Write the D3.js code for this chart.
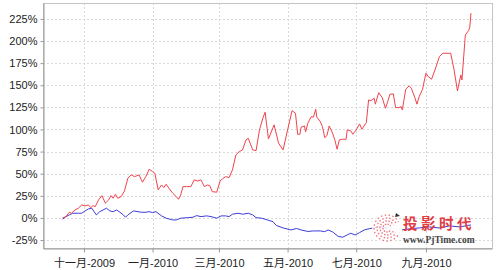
<!DOCTYPE html>
<html>
<head>
<meta charset="utf-8">
<script src="https://cdn.jsdelivr.net/npm/d3@7"></script>
<style>
  html, body { margin: 0; padding: 0; background: #fff; }
  svg { display: block; }
  .axis text { font-family: "Liberation Sans", Arial, "Noto Sans CJK SC", sans-serif; font-size: 11px; fill: #222; }
  .axis path, .axis line { stroke: #999; }
</style>
</head>
<body>
<svg id="chart" width="500" height="270"></svg>
<script>
// month names used on the time axis
const monthNames = ["一月", "二月", "三月", "四月", "五月", "六月", "七月", "八月", "九月", "十月", "十一月", "十二月"];
const yTicks = [-25, 0, 25, 50, 75, 100, 125, 150, 175, 200, 225];

// fund return (red), %
const redDates = [
  "2009-10-13", "2009-10-16", "2009-10-19", "2009-10-21", "2009-10-24", "2009-10-27", "2009-10-30",
  "2009-11-02", "2009-11-05", "2009-11-07", "2009-11-09", "2009-11-11", "2009-11-14", "2009-11-17",
  "2009-11-20", "2009-11-23", "2009-11-25", "2009-11-27", "2009-11-29", "2009-12-01", "2009-12-04",
  "2009-12-07", "2009-12-10", "2009-12-13", "2009-12-16", "2009-12-20", "2009-12-23", "2009-12-26",
  "2009-12-29", "2010-01-01", "2010-01-03", "2010-01-06", "2010-01-09", "2010-01-11", "2010-01-13",
  "2010-01-16", "2010-01-19", "2010-01-22", "2010-01-24", "2010-01-26", "2010-01-28", "2010-01-31",
  "2010-02-04", "2010-02-07", "2010-02-10", "2010-02-13", "2010-02-16", "2010-02-19", "2010-02-21",
  "2010-02-23", "2010-02-27", "2010-03-02", "2010-03-04", "2010-03-07", "2010-03-10", "2010-03-13",
  "2010-03-16", "2010-03-19", "2010-03-22", "2010-03-25", "2010-03-27", "2010-03-31", "2010-04-03",
  "2010-04-06", "2010-04-09", "2010-04-11", "2010-04-14", "2010-04-19", "2010-04-23", "2010-04-27",
  "2010-05-01", "2010-05-05", "2010-05-08", "2010-05-10", "2010-05-12", "2010-05-13", "2010-05-16",
  "2010-05-17", "2010-05-19", "2010-05-22", "2010-05-24", "2010-05-26", "2010-05-27", "2010-05-30",
  "2010-06-01", "2010-06-03", "2010-06-05", "2010-06-07", "2010-06-10", "2010-06-12", "2010-06-14",
  "2010-06-16", "2010-06-19", "2010-06-22", "2010-06-23", "2010-06-26", "2010-06-28", "2010-07-01",
  "2010-07-04", "2010-07-06", "2010-07-10", "2010-07-12", "2010-07-14", "2010-07-17", "2010-07-18",
  "2010-07-21", "2010-07-23", "2010-07-24", "2010-07-27", "2010-07-29", "2010-07-31", "2010-08-03",
  "2010-08-05", "2010-08-08", "2010-08-10", "2010-08-11", "2010-08-14", "2010-08-17", "2010-08-19",
  "2010-08-22", "2010-08-24", "2010-08-26", "2010-08-29", "2010-08-31", "2010-09-01", "2010-09-03",
  "2010-09-06", "2010-09-09", "2010-09-13", "2010-09-16", "2010-09-23", "2010-09-26", "2010-09-29",
  "2010-10-02", "2010-10-03", "2010-10-06", "2010-10-09", "2010-10-10", "2010-10-11"
];
const redValues = [
  0, 1.5, 6.4, 5.3, 9, 11, 14.7,
  13.6, 14.7, 11.6, 13.9, 12.8, 20.4, 25.2,
  16.6, 20.4, 25.2, 22.3, 26.8, 22.3, 24.1,
  30.5, 44.9, 48.6, 46.7, 48.6, 40.4, 46.7,
  55.1, 52.4, 50.5, 31.7, 37.3, 34.3, 38.1,
  32.8, 27.9, 24.1, 21.1, 26, 35.4, 35.4,
  35.4, 43, 41.8, 43, 35.4, 37.3, 36.2,
  29.7, 29.1, 41.8, 44.1, 46.7, 45.6, 54.3,
  71.2, 75, 76.9, 88.2, 90.1, 76.9, 76.1,
  99.5, 112.7, 119.5, 89.3, 105.2, 84.5, 76.9,
  99.5, 121.3, 118.4, 94.6, 94.6, 102.6, 104,
  97.2, 107.1, 114.5, 113.9, 122.9, 113.9, 108.9,
  103.2, 90.8, 93.1, 104, 95.8, 88.2, 77.7,
  88.2, 89, 89, 99.5, 98.7, 94.6, 99.5,
  106.3, 100.3, 107.8, 133.4, 132.6, 135.3, 128.6,
  141.7, 137.9, 136.5, 124, 131.5, 139.9, 140.2,
  124.7, 124.7, 125.8, 122.1, 145.5, 149.3, 146.7,
  136.5, 128.6, 137.2, 145.5, 158, 163.6, 159.8,
  156.8, 167.3, 182.4, 186.2, 186.2, 167.3, 143.6,
  161.7, 156, 206.9, 212, 216, 231.5
];

// benchmark (blue), %
const blueDates = [
  "2009-10-13", "2009-10-16", "2009-10-19", "2009-10-22", "2009-10-27", "2009-10-30", "2009-11-02",
  "2009-11-05", "2009-11-08", "2009-11-10", "2009-11-12", "2009-11-15", "2009-11-18", "2009-11-21",
  "2009-11-24", "2009-11-27", "2009-11-30", "2009-12-03", "2009-12-06", "2009-12-08", "2009-12-10",
  "2009-12-15", "2009-12-19", "2009-12-22", "2009-12-26", "2009-12-29", "2010-01-01", "2010-01-04",
  "2010-01-09", "2010-01-13", "2010-01-19", "2010-01-22", "2010-01-26", "2010-02-01", "2010-02-06",
  "2010-02-09", "2010-02-13", "2010-02-18", "2010-02-22", "2010-02-27", "2010-03-03", "2010-03-07",
  "2010-03-10", "2010-03-13", "2010-03-18", "2010-03-22", "2010-03-27", "2010-03-31", "2010-04-03",
  "2010-04-08", "2010-04-13", "2010-04-18", "2010-04-21", "2010-04-27", "2010-05-04", "2010-05-09",
  "2010-05-13", "2010-05-19", "2010-05-24", "2010-05-30", "2010-06-03", "2010-06-06", "2010-06-10",
  "2010-06-15", "2010-06-19", "2010-06-23", "2010-06-26", "2010-06-30", "2010-07-04", "2010-07-08",
  "2010-07-13", "2010-07-22", "2010-07-27", "2010-08-03", "2010-08-10", "2010-08-17", "2010-08-26",
  "2010-09-04", "2010-09-13", "2010-09-22", "2010-10-01", "2010-10-11"
];
const blueValues = [
  -1.5, 1.5, 3.4, 5.3, 5.3, 5.3, 7.9,
  10.2, 11, 7.1, 3.4, 7.1, 9, 11,
  7.9, 7.1, 9, 6.4, 3.4, 0.8, 3.4,
  7.9, 7.1, 6.4, 6.4, 7.1, 6, 7.1,
  2.3, -0.3, -2.3, -2.3, -0.3, 0.3, 0.8,
  2.6, 1.5, 2.3, 1.5, -0.3, 2.3, 2.3,
  1.5, 4.2, 5.3, 4.2, 5.3, 3.4, 0.3,
  -0.3, -2.3, -4.2, -8.5, -11.3, -13.6, -11.9,
  -13.6, -15.3, -14.7, -14.7, -15.5, -13.6, -15.8,
  -20.9, -21.8, -19.2, -17.3, -19.2, -16.6, -13.6,
  -12.1, -9.8, -11.3, -11, -13.6, -12.4, -11.3,
  -10.2, -11.3, -9, -10.2, -7.9
];

const parseDate = d3.timeParse("%Y-%m-%d");
const red = redDates.map((d, i) => ({ date: parseDate(d), value: redValues[i] }));
const blue = blueDates.map((d, i) => ({ date: parseDate(d), value: blueValues[i] }));

const svg = d3.select("#chart");
const plotLeft = 43, plotRight = 492, plotTop = 3, plotBottom = 248;

const x = d3.scaleTime()
  .domain([new Date(2009, 8, 25, 14), new Date(2010, 9, 29, 17)])
  .range([plotLeft, plotRight]);
const y = d3.scaleLinear().domain([-34, 243]).range([plotBottom, plotTop]);

const xTicks = x.ticks(d3.timeMonth.every(2));

// grid
const grid = svg.append("g").attr("stroke", "#d8d8d8").attr("stroke-dasharray", "2,2").attr("shape-rendering", "crispEdges");
grid.selectAll(".h").data(yTicks).enter().append("line")
  .attr("x1", plotLeft).attr("x2", plotRight)
  .attr("y1", d => Math.round(y(d)) + 0.5).attr("y2", d => Math.round(y(d)) + 0.5);
grid.selectAll(".v").data(xTicks).enter().append("line")
  .attr("y1", plotTop).attr("y2", plotBottom)
  .attr("x1", d => Math.round(x(d)) + 0.5).attr("x2", d => Math.round(x(d)) + 0.5);

// frame
svg.append("rect")
  .attr("x", plotLeft + 0.5).attr("y", plotTop + 0.5)
  .attr("width", plotRight - plotLeft).attr("height", plotBottom - plotTop)
  .attr("fill", "none").attr("stroke", "#c4c4c4");

// axes
svg.append("g").attr("class", "axis")
  .attr("transform", `translate(0,${plotBottom + 0.5})`)
  .call(d3.axisBottom(x).tickValues(xTicks).tickSize(4).tickSizeOuter(0).tickPadding(7)
    .tickFormat(d => monthNames[d.getMonth()] + "-" + d.getFullYear()))
  .call(g => g.select(".domain").attr("stroke", "#888"));

svg.append("g").attr("class", "axis")
  .attr("transform", `translate(${plotLeft + 0.5},0)`)
  .call(d3.axisLeft(y).tickValues(yTicks).tickSize(3).tickSizeOuter(0).tickPadding(3)
    .tickFormat(d => d + "%"))
  .call(g => g.select(".domain").attr("stroke", "#888"));

// lines
const line = d3.line().x(d => x(d.date)).y(d => y(d.value));
svg.append("path").datum(blue)
  .attr("fill", "none").attr("stroke", "#3c3cd8").attr("stroke-width", 1).attr("d", line);
svg.append("path").datum(red)
  .attr("fill", "none").attr("stroke", "#f0434c").attr("stroke-width", 1).attr("d", line);

// watermark of the source site
const wm = svg.append("g");
wm.append("circle").attr("cx", 387).attr("cy", 228).attr("r", 15).attr("fill", "#fff").attr("opacity", 0.85);
[4, 7, 10, 13].forEach((r, i) => {
  wm.append("circle").attr("cx", 387).attr("cy", 228).attr("r", r)
    .attr("fill", "none").attr("stroke", "#e8505a").attr("stroke-width", 1.3)
    .attr("stroke-dasharray", "1.5," + (1.2 + i * 0.4)).attr("opacity", 0.8);
});
wm.append("path").attr("d", "M387,228 L402,220 L402,236 Z").attr("fill", "#fff").attr("opacity", 0.9);
wm.append("path").attr("d", "M396,213 L400,216 L395,217 Z").attr("fill", "#333");
wm.append("text").attr("x", 403).attr("y", 229)
  .attr("font-family", "Noto Sans CJK SC").attr("font-weight", "bold").attr("font-size", 14.5)
  .attr("letter-spacing", 3.5).attr("fill", "#e23b44").text("投影时代");
wm.append("text").attr("x", 403).attr("y", 243)
  .attr("font-family", "Liberation Serif").attr("font-weight", "bold").attr("font-size", 9.5)
  .attr("fill", "#444").text("www.PjTime.com");
</script>
</body>
</html>
